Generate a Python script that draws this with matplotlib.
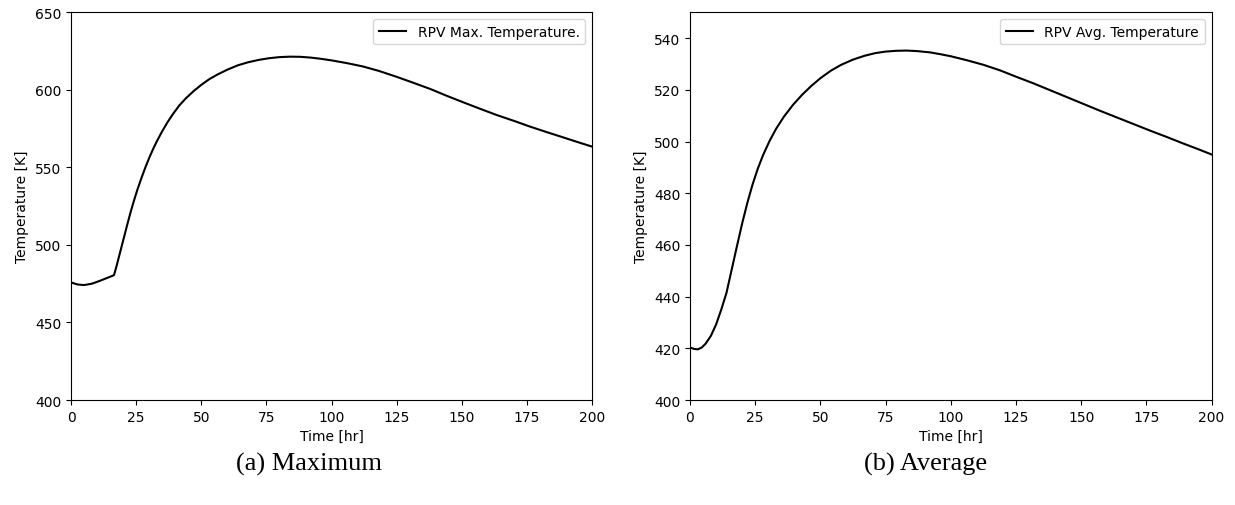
import matplotlib
matplotlib.use("Agg")
import matplotlib.pyplot as plt

# RPV maximum temperature history
time_max = [0, 2.5, 5, 8, 11, 14, 16.5, 17.5, 18.5, 19.5, 20.5, 21.5, 22.5, 23.5,
            24.5, 25.5, 27, 28.5, 30, 31.5, 33, 35, 37, 39, 41.5, 44, 47, 50, 53,
            56, 60, 64, 68, 72, 76, 80, 84, 88, 92, 96, 100, 106, 112, 118, 125,
            131, 138, 144, 150.5, 157, 163.5, 170, 176, 182.5, 189, 194.5, 200]
temp_max = [475.8, 474.5, 474.1, 475.0, 476.8, 478.8, 480.5, 486.5, 493, 499.5,
            506, 512.5, 518.8, 524.8, 530.4, 535.7, 543, 549.8, 556.1, 561.8, 567,
            573.3, 579, 584.1, 589.8, 594.4, 599.1, 603.2, 606.8, 609.7, 613,
            615.8, 617.8, 619.3, 620.4, 621.1, 621.4, 621.3, 620.8, 620.0, 619.0,
            617.2, 615.1, 612.3, 608.4, 604.8, 600.5, 596.3, 592, 587.8, 583.7,
            580, 576.4, 572.8, 569.3, 566.3, 563.4]

# RPV average temperature history
time_avg = [0, 1.5, 3, 4.5, 6, 8, 10, 12, 14, 16, 18, 20, 22, 24, 26, 28, 30.5,
            33, 36, 39.5, 43, 46.5, 50, 54, 58, 62.5, 67, 71, 75, 79, 83, 87, 92,
            96, 100, 106, 112.5, 119, 125, 131.5, 138, 144.5, 151, 157, 163.5,
            170, 176.5, 183, 189, 194.5, 200]
temp_avg = [420.3, 419.8, 419.6, 420.3, 421.8, 424.8, 429.2, 435, 441.5, 450.5,
            459.5, 468.3, 476.3, 483.4, 489.5, 494.7, 500.2, 504.9, 509.6, 514.2,
            518.1, 521.5, 524.5, 527.4, 529.7, 531.7, 533.2, 534.2, 534.8, 535.1,
            535.2, 535.0, 534.5, 533.8, 533.0, 531.5, 529.7, 527.5, 525.1, 522.6,
            519.9, 517.2, 514.5, 512.0, 509.4, 506.8, 504.2, 501.7, 499.3, 497.2,
            495]

x_ticks = [0, 25, 50, 75, 100, 125, 150, 175, 200]

fig = plt.figure(figsize=(12.35, 5.06), dpi=100)

ax1 = fig.add_axes([0.0575, 0.2075, 0.4219, 0.7662])
ax1.plot(time_max, temp_max, color="black", lw=1.5, label="RPV Max. Temperature.")
ax1.set_xlim(0, 200)
ax1.set_ylim(400, 650)
ax1.set_xticks(x_ticks)
ax1.set_xlabel("Time [hr]")
ax1.set_ylabel("Temperature [K]")
ax1.legend(loc="upper right")

ax2 = fig.add_axes([0.5587, 0.2075, 0.4223, 0.7662])
ax2.plot(time_avg, temp_avg, color="black", lw=1.5, label="RPV Avg. Temperature")
ax2.set_xlim(0, 200)
ax2.set_ylim(400, 550)
ax2.set_xticks(x_ticks)
ax2.set_yticks([400, 420, 440, 460, 480, 500, 520, 540])
ax2.set_xlabel("Time [hr]")
ax2.set_ylabel("Temperature [K]")
ax2.legend(loc="upper right")

fig.text(309 / 1235, 0.083, "(a) Maximum", ha="center", va="center",
         family="Liberation Serif", fontsize=19)
fig.text(926 / 1235, 0.083, "(b) Average", ha="center", va="center",
         family="Liberation Serif", fontsize=19)

fig.savefig("out.png", dpi=100)
